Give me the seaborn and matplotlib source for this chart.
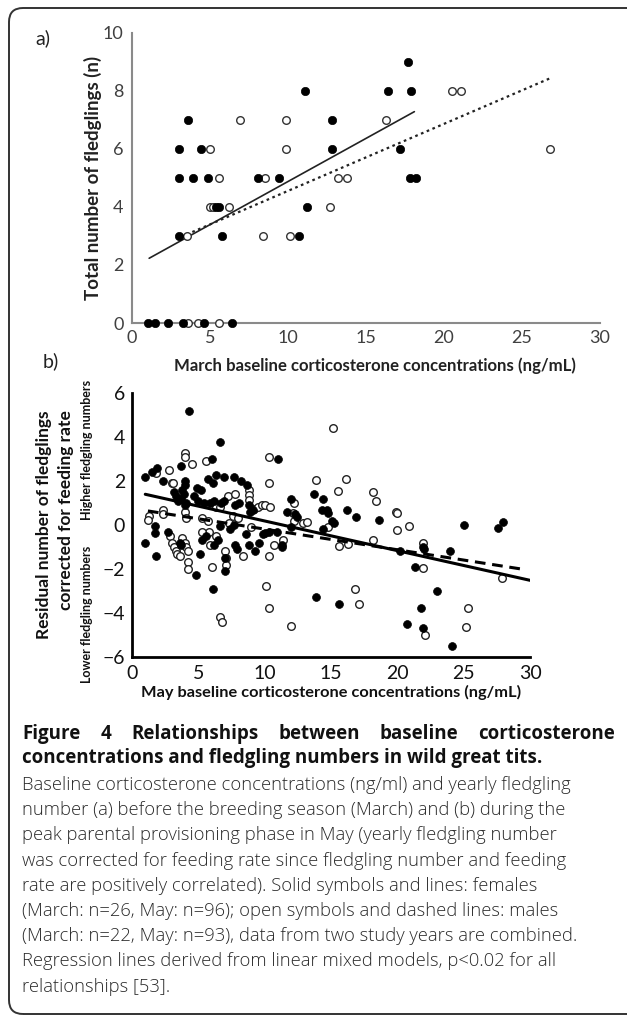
import numpy as np
import pandas as pd
import matplotlib
matplotlib.use("Agg")
import matplotlib.pyplot as plt
import seaborn as sns
from matplotlib.patches import FancyBboxPatch

# ---------------- data ----------------
# Panel a: March
a_fem_x = [17.7, 11.1, 16.4, 17.9, 3.6, 12.8, 3.0, 4.4, 12.8, 17.2, 3.0, 3.9, 4.9, 8.1, 9.4,
           17.8, 18.2, 5.4, 5.6, 11.2, 3.0, 5.8, 10.7, 1.05, 1.5, 2.3, 3.25, 4.6, 6.4]
a_fem_y = [9, 8, 8, 8, 7, 7, 6, 6, 6, 6, 5, 5, 5, 5, 5,
           5, 5, 4, 4, 4, 3, 3, 3, 0, 0, 0, 0, 0, 0]
a_male_x = [20.5, 21.1, 6.9, 9.85, 16.3, 5.0, 9.85, 26.8, 5.6, 8.5, 13.2, 13.8, 5.0, 5.2, 6.2,
            12.7, 3.5, 8.4, 10.1, 3.6, 4.25, 5.6]
a_male_y = [8, 8, 7, 7, 7, 6, 6, 6, 5, 5, 5, 5, 4, 4, 4,
            4, 3, 3, 3, 0, 0, 0]
a_fem_line_x = [1.1, 18.1]
a_fem_line_y = [2.23, 7.28]
a_male_line_x = [3.5, 26.8]
a_male_line_y = [3.05, 8.43]

# Panel b: May
b_fem_x = [1.0, 1.5, 1.9, 2.3, 3.7, 4.3, 6.6, 6.0, 4.0, 4.0, 4.9, 5.2, 5.7, 6.3, 6.9, 6.1,
           7.7, 8.2, 8.7, 3.2, 3.3, 3.5, 3.7, 3.9, 4.1, 4.0, 3.8, 4.7, 5.0, 5.4, 5.9, 6.2,
           6.7, 6.9, 7.8, 8.1, 8.8, 8.9, 9.1, 11.0, 1.7, 1.7, 1.0, 1.8, 2.7, 3.6, 3.7, 5.1,
           5.3, 5.6, 6.2, 6.5, 6.6, 7.0, 7.0, 7.4, 7.7, 7.8, 7.9, 8.6, 8.8, 9.3, 9.6, 9.9,
           4.8, 6.1, 10.0, 10.3, 10.9, 11.3, 11.3, 12.0, 12.0, 11.7, 12.3, 12.4, 13.7, 14.4, 14.3, 14.7,
           14.8, 14.4, 15.1, 15.2, 16.2, 16.9, 18.6, 13.9, 15.6, 20.2, 21.3, 21.9, 22.0, 23.0, 24.0, 25.0,
           27.6, 28.0, 21.8, 20.7, 21.9, 24.1]
b_fem_y = [2.2, 2.4, 2.6, 2.0, 2.7, 5.2, 3.8, 3.0, 2.0, 1.8, 1.7, 1.6, 2.1, 2.3, 2.2, 1.9,
           2.2, 2.0, 1.8, 1.5, 1.3, 1.1, 1.2, 1.4, 1.0, 0.9, 1.6, 1.3, 1.1, 1.0, 1.0, 1.1,
           1.0, 1.1, 0.9, 1.0, 0.9, 0.6, 0.7, 3.0, -0.05, -0.35, -0.8, -1.4, -0.3, -0.8, -0.9, -1.3,
           -0.7, -0.5, -0.9, -0.7, -0.05, -1.5, -2.1, -0.2, 0.0, -0.9, -1.1, -0.4, -0.9, -1.2, -0.8, -0.4,
           -2.3, -2.9, -0.35, -0.3, -0.3, -0.9, -1.0, -0.1, 1.2, 0.6, 0.5, 0.35, 1.4, 1.2, 0.7, 0.7,
           0.55, -0.2, 0.2, 0.1, 0.7, 0.35, 0.25, -3.3, -3.6, -1.2, -1.9, -1.0, -1.1, -3.0, -1.2, 0.0,
           -0.15, 0.15, -3.8, -4.5, -4.7, -5.5]
b_male_x = [1.3, 1.2, 2.3, 2.3, 2.8, 1.8, 3.0, 3.1, 4.0, 4.0, 4.5, 5.6, 7.2, 7.8, 8.8, 8.85,
            8.85, 9.2, 9.5, 9.8, 5.25, 5.75, 4.0, 4.1, 6.3, 6.6, 7.3, 7.6, 2.9, 3.0, 3.2, 3.3,
            3.4, 3.6, 3.8, 4.0, 4.1, 4.2, 4.2, 4.2, 5.8, 5.9, 6.0, 6.3, 7.0, 7.1, 7.1, 8.4,
            6.6, 6.8, 10.1, 10.3, 12.0, 15.15, 10.3, 10.3, 13.9, 16.1, 15.5, 18.2, 18.4, 19.9, 10.0, 10.4,
            12.2, 12.1, 12.2, 12.9, 13.2, 10.7, 11.35, 10.3, 14.8, 15.6, 16.3, 18.2, 20.0, 16.8, 17.1, 20.0,
            20.9, 21.9, 21.9, 27.9, 25.3, 25.2, 22.1, 9.0, 8.0, 5.3]
b_male_y = [0.4, 0.25, 0.7, 0.5, 2.5, 2.35, 1.9, 1.9, 3.3, 3.1, 2.8, 2.9, 1.3, 1.4, 1.6, 1.35,
            1.15, 0.75, 0.8, 0.9, 0.3, 0.2, 0.6, 0.3, 0.8, 0.8, 0.1, 0.4, -0.5, -0.8, -1.0, -1.2,
            -1.3, -1.4, -0.6, -0.8, -1.0, -1.2, -1.7, -2.0, -0.3, -0.9, -1.9, -0.5, -1.2, -1.5, -1.8, -1.4,
            -4.2, -4.4, -2.8, -3.8, -4.6, 4.4, 3.1, 1.9, 2.05, 2.1, 1.55, 1.5, 1.1, 0.6, 0.9, 0.8,
            1.0, 0.55, 0.2, 0.1, 0.15, -0.9, -0.7, -1.4, -0.1, -0.95, -0.85, -0.7, -0.25, -2.9, -3.6, 0.55,
            -0.05, -0.8, -1.95, -2.4, -3.8, -4.65, -5.0, -0.1, 0.3, -0.3]
b_fem_line_x = [1.0, 30.0]
b_fem_line_y = [1.4, -2.52]
b_male_line_x = [1.2, 29.5]
b_male_line_y = [0.64, -2.02]

a_xticks = [0, 5, 10, 15, 20, 25, 30]
a_yticks = [0, 2, 4, 6, 8, 10]
b_xticks = [0, 5, 10, 15, 20, 25, 30]
b_yticks = [-6, -4, -2, 0, 2, 4, 6]

# ---------------- style ----------------
sns.set_theme(style="white")
plt.rcParams['font.family'] = ['Lato', 'DejaVu Sans']
plt.rcParams['axes.unicode_minus'] = True

W, H = 627, 1021
fig = plt.figure(figsize=(W / 100, H / 100), dpi=100)
fig.patch.set_facecolor('white')

def fx(px):
    return px / W

def fy(py):
    return 1 - py / H

# ---------------- panel a ----------------
ax1 = fig.add_axes([fx(132), fy(323), fx(600) - fx(132), fy(32.7) - fy(323)])
ax1.set_xlim(0, 30)
ax1.set_ylim(0, 10)
dfa_f = pd.DataFrame({'x': a_fem_x, 'y': a_fem_y})
dfa_m = pd.DataFrame({'x': a_male_x, 'y': a_male_y})
sns.lineplot(x=a_fem_line_x, y=a_fem_line_y, ax=ax1, color='#222222', linewidth=1.2, zorder=2)
sns.lineplot(x=a_male_line_x, y=a_male_line_y, ax=ax1, color='#222222', linewidth=1.6,
             linestyle=(0, (1.2, 1.6)), zorder=2)
sns.scatterplot(data=dfa_m, x='x', y='y', ax=ax1, color='white', edgecolor='#333333',
                linewidth=1.0, s=30, clip_on=False, zorder=3)
sns.scatterplot(data=dfa_f, x='x', y='y', ax=ax1, color='black', edgecolor='black',
                linewidth=0.5, s=36, clip_on=False, zorder=4)
for s in ['top', 'right']:
    ax1.spines[s].set_visible(False)
for s in ['left', 'bottom']:
    ax1.spines[s].set_color('#8a8a8a')
    ax1.spines[s].set_linewidth(1.5)
ax1.set_xticks(a_xticks)
ax1.set_yticks(a_yticks)
ax1.tick_params(axis='both', length=0, labelsize=13, labelcolor='#404040')
ax1.tick_params(axis='x', pad=5)
ax1.tick_params(axis='y', pad=6)
ax1.set_xlabel('March baseline corticosterone concentrations (ng/mL)', fontsize=12.1,
               fontweight='bold', color='#222222')
ax1.xaxis.set_label_coords((375 - 132) / 468, -(366 - 323) / 290.3)
ax1.xaxis.label.set_va('center')
ax1.set_ylabel('Total number of fledglings (n)', fontsize=13.5, fontweight='bold', color='#222222')
ax1.yaxis.set_label_coords((93 - 132) / 468, 0.5)
ax1.yaxis.label.set_va('center')

fig.text(fx(35), fy(38), 'a)', fontsize=14, color='#222222', ha='left', va='center')

# ---------------- panel b ----------------
ax2 = fig.add_axes([fx(132), fy(656.7), fx(530) - fx(132), fy(393.3) - fy(656.7)])
ax2.set_xlim(0, 30)
ax2.set_ylim(-6, 6)
dfb_f = pd.DataFrame({'x': b_fem_x, 'y': b_fem_y})
dfb_m = pd.DataFrame({'x': b_male_x, 'y': b_male_y})
sns.scatterplot(data=dfb_m, x='x', y='y', ax=ax2, color='white', edgecolor='#222222',
                linewidth=1.0, s=30, clip_on=False, zorder=3)
sns.scatterplot(data=dfb_f, x='x', y='y', ax=ax2, color='black', edgecolor='black',
                linewidth=0.5, s=32, clip_on=False, zorder=4)
sns.lineplot(x=b_fem_line_x, y=b_fem_line_y, ax=ax2, color='black', linewidth=2.2, zorder=5)
sns.lineplot(x=b_male_line_x, y=b_male_line_y, ax=ax2, color='black', linewidth=2.2,
             linestyle=(0, (3.5, 2.2)), zorder=5)
for s in ['top', 'right']:
    ax2.spines[s].set_visible(False)
for s in ['left', 'bottom']:
    ax2.spines[s].set_color('black')
    ax2.spines[s].set_linewidth(2)
ax2.set_xticks(b_xticks)
ax2.set_yticks(b_yticks)
ax2.tick_params(axis='both', length=0, labelsize=14, labelcolor='#111111')
ax2.tick_params(axis='x', pad=6)
ax2.tick_params(axis='y', pad=5)
ax2.set_xlabel('May baseline corticosterone concentrations (ng/mL)', fontsize=11.8,
               fontweight='bold', color='#111111')
ax2.xaxis.set_label_coords((331 - 132) / 398, -(692 - 656.7) / 263.4)
ax2.xaxis.label.set_va('center')
ax2.set_ylabel('')

fig.text(fx(44), fy(525), 'Residual number of fledglings', rotation=90, fontsize=12.5,
         fontweight='bold', ha='center', va='center', color='#111111')
fig.text(fx(66), fy(510), 'corrected for feeding rate', rotation=90, fontsize=12.5,
         fontweight='bold', ha='center', va='center', color='#111111')
fig.text(fx(87), fy(450), 'Higher fledgling numbers', rotation=90, fontsize=9,
         fontweight='bold', ha='center', va='center', color='#111111')
fig.text(fx(87), fy(614), 'Lower fledgling numbers', rotation=90, fontsize=9,
         fontweight='bold', ha='center', va='center', color='#111111')
fig.text(fx(43), fy(361), 'b)', fontsize=14, color='#222222', ha='left', va='center')

# ---------------- caption ----------------
cap_font = ['Open Sans', 'DejaVu Sans']
heading1 = ['Figure', '4', 'Relationships', 'between', 'baseline', 'corticosterone']
fig.canvas.draw()
renderer = fig.canvas.get_renderer()
texts = [fig.text(0, fy(734), w, fontsize=13.5, fontweight='bold', family=cap_font,
                  ha='left', va='center', color='#111111') for w in heading1]
widths = [t.get_window_extent(renderer).width for t in texts]
left, right = 22, 615
gap = (right - left - sum(widths)) / (len(heading1) - 1)
xcur = left
for t, wdt in zip(texts, widths):
    t.set_x(fx(xcur))
    xcur += wdt + gap
fig.text(fx(22), fy(758), 'concentrations and fledgling numbers in wild great tits.',
         fontsize=13.5, fontweight='bold', family=cap_font, ha='left', va='center', color='#111111')

body = [
    'Baseline corticosterone concentrations (ng/ml) and yearly fledgling',
    'number (a) before the breeding season (March) and (b) during the',
    'peak parental provisioning phase in May (yearly fledgling number',
    'was corrected for feeding rate since fledgling number and feeding',
    'rate are positively correlated). Solid symbols and lines: females',
    '(March: n=26, May: n=96); open symbols and dashed lines: males',
    '(March: n=22, May: n=93), data from two study years are combined.',
    'Regression lines derived from linear mixed models, p<0.02 for all',
    'relationships [53].',
]
for i, line in enumerate(body):
    fig.text(fx(22), fy(785 + i * 25.2), line, fontsize=13.2, family=cap_font,
             fontweight='light', ha='left', va='center', color='#2a2a2a')

# ---------------- frame ----------------
frame = FancyBboxPatch((9, H - 1014), 660, 1006, boxstyle='round,pad=0,rounding_size=14',
                       transform=None, fill=False, linewidth=1.4, edgecolor='#333333')
fig.add_artist(frame)

fig.savefig('out.png', dpi=100)
